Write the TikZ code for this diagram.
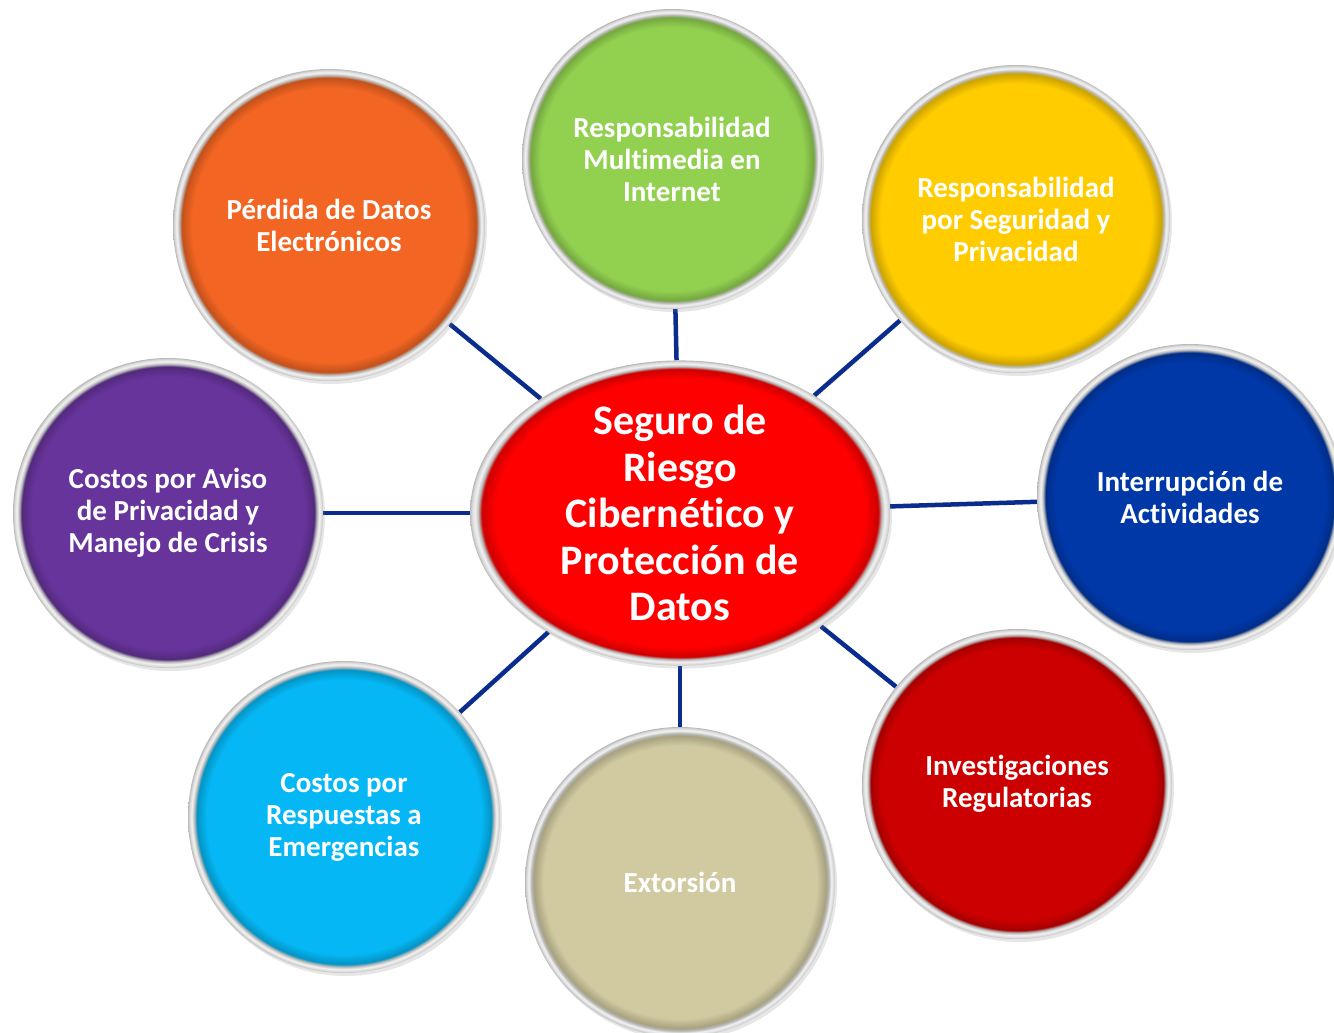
\documentclass[tikz,border=0pt]{standalone}
\usepackage{fontspec}
\setmainfont{Carlito}[Ligatures=NoCommon]
\usetikzlibrary{backgrounds,shadows,shapes.geometric}
\definecolor{cgreen}{HTML}{92D050}
\definecolor{corange}{HTML}{F26522}
\definecolor{cyellow}{HTML}{FFCC00}
\definecolor{cblue}{HTML}{0038A8}
\definecolor{cdred}{HTML}{CC0000}
\definecolor{clblue}{HTML}{05B8F5}
\definecolor{ctan}{HTML}{D1CAA1}
\definecolor{cpurple}{HTML}{67349B}
\definecolor{ccenter}{HTML}{FF0000}
\definecolor{linkblue}{HTML}{0A2C8C}
\colorlet{bevelbase}{red}
\pgfdeclareradialshading[bevelbase]{bevel}{\pgfpoint{0bp}{0bp}}{%
  color(0bp)=(bevelbase); color(22bp)=(bevelbase); color(23.6bp)=(bevelbase!80!black);
  color(24bp)=(black!28); color(24.4bp)=(white!95!black); color(24.8bp)=(black!15);
  color(25bp)=(black!28); color(50bp)=(black!28)}
\tikzset{
  bevel color/.code={\colorlet{bevelbase}{#1}},
  bubble/.style={circle, minimum size=310pt, inner sep=0pt, shade, shading=bevel,
    bevel color=#1, text=white, align=center,
    font=\fontsize{29}{32}\selectfont\bfseries,
    drop shadow={shadow xshift=2pt, shadow yshift=-3pt, opacity=0.2}},
  hub/.style={ellipse, minimum width=420pt, minimum height=290pt, inner sep=0pt,
    shade, shading=bevel, bevel color=ccenter, text=white, align=center,
    font=\fontsize{42}{46.5}\selectfont\bfseries,
    drop shadow={shadow xshift=2pt, shadow yshift=-3pt, opacity=0.2}},
  link/.style={draw=linkblue, line width=4.5pt}
}
\begin{document}
\begin{tikzpicture}[x=1pt, y=-1pt]
\useasboundingbox (0,0) rectangle (1334,1033);
\clip (0,0) rectangle (1334,1033);
\node[hub] (c) at (680,513) {Seguro de\\Riesgo\\Cibernético y\\Protección de\\Datos};
\node[bubble=cgreen, minimum size=300pt] (n1) at (672,159) {Responsabilidad\\Multimedia en\\Internet};
\node[bubble=cyellow, minimum size=308pt] (n2) at (1016,219) {Responsabilidad\\por Seguridad y\\Privacidad};
\node[bubble=cblue, minimum size=306pt] (n3) at (1190,497) {Interrupción de\\Actividades};
\node[bubble=cdred] (n4) at (1017,784) {Investigaciones\\Regulatorias};
\node[bubble=ctan] (n5) at (680,882) {Extorsión};
\node[bubble=clblue, minimum size=312pt] (n6) at (344,817) {Costos por\\Respuestas a\\Emergencias};
\node[bubble=cpurple] (n7) at (168,513) {Costos por Aviso\\de Privacidad y\\Manejo de Crisis};
\node[bubble=corange, minimum size=312pt] (n8) at (329,225) {Pérdida de Datos\\Electrónicos};
\begin{scope}[on background layer]
  \foreach \n in {n1,n2,n3,n4,n5,n6,n7,n8}
    \draw[link] (c) -- (\n);
\end{scope}
\end{tikzpicture}
\end{document}
